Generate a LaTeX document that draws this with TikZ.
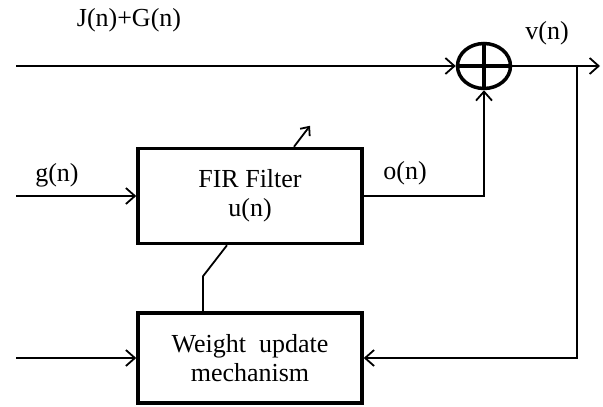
\documentclass[tikz,border=0pt]{standalone}
\usepackage{fontspec}
\setmainfont{Liberation Serif}
\usetikzlibrary{positioning,arrows.meta,shapes.geometric}

\begin{document}
\begin{tikzpicture}[x=1pt,y=-1pt,>={Straight Barb[length=9pt,width=16pt]},
	blk/.style={draw=black,
		rectangle,
		line width=3.5pt,
		minimum width=224pt,
		align=center,
		font=\fontsize{26}{29}\selectfont},
	sig/.style={line width=1.8pt},
	lbl/.style={inner sep=0pt, font=\fontsize{26}{28}\selectfont}]
	\useasboundingbox (0,0) rectangle (603,407);
	\node[blk,minimum height=95pt] (fir) at (250,196) {FIR Filter\\u(n)};
	\node[blk,minimum height=90pt,below=66pt of fir] (wum) {Weight\enspace update\\mechanism};
	\node[draw=black,ellipse,line width=3.5pt,minimum width=53pt,minimum height=45pt,inner sep=0pt] (sum) at (484,66) {};
	\draw[line width=3.5pt] (sum.north)--(sum.south) (sum.west)--(sum.east);
	\coordinate (in1) at (16,66);
	\coordinate (ing) at (16,196);
	\coordinate (inw) at (16,358);
	\coordinate (out) at (600,66);
	\coordinate (branch) at (577,66);
	\node[lbl] (jg) at (129,20) {J(n)+G(n)};
	\node[lbl] (vn) at (547,33) {v(n)};
	\node[lbl] (gn) at (57,175) {g(n)};
	\node[lbl] (on) at (405,173) {o(n)};
	\draw[sig,->] (in1)--(sum.west);
	\draw[sig,->] (sum.east)--(out);
	\draw[sig,->] (ing)--(fir.west);
	\draw[sig,->] (fir.east)-|(sum.south);
	\draw[sig,->] (branch)|-(wum.east);
	\draw[sig,->] (inw)--(wum.west);
	\draw[sig] ([xshift=-47pt]wum.north)--++(0,-35)--([xshift=-23pt]fir.south);
	\draw[sig,->,>={Straight Barb[length=7pt,width=12pt]}] ([xshift=44pt]fir.north)--++(16,-21);
\end{tikzpicture}
\end{document}
